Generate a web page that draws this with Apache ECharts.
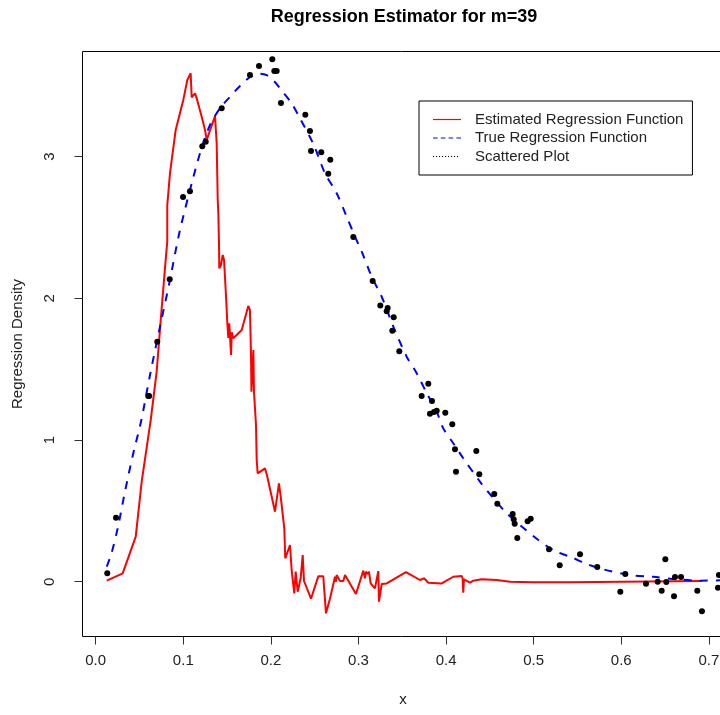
<!DOCTYPE html>
<html>
<head>
<meta charset="utf-8">
<script src="https://cdn.jsdelivr.net/npm/echarts@6/dist/echarts.min.js"></script>
<style>
  html, body { margin: 0; padding: 0; background: #fff; }
  #chart { width: 720px; height: 715px; }
</style>
</head>
<body>
<div id="chart"></div>
<script>
// estimated regression function (red)
const estX = [0.0126, 0.0308, 0.0457, 0.0525, 0.0628, 0.0696, 0.0753, 0.0802, 0.0817, 0.0817, 0.0848, 0.0913,
  0.1000, 0.1046, 0.1084, 0.1096, 0.1134, 0.1153, 0.1210, 0.1248, 0.1267, 0.1286, 0.1362, 0.1381, 0.1393,
  0.1400, 0.1408, 0.1411, 0.1430, 0.1450, 0.1465, 0.1487, 0.1503, 0.1514, 0.1525, 0.1545, 0.1553, 0.1571,
  0.1667, 0.1742, 0.1761, 0.1773, 0.1778, 0.1800, 0.1807, 0.1830, 0.1838, 0.1849, 0.1933, 0.1959, 0.2047,
  0.2092, 0.2112, 0.2153, 0.2164, 0.2218, 0.2237, 0.2267, 0.2283, 0.2306, 0.2340, 0.2363, 0.2378, 0.2458,
  0.2541, 0.2598, 0.2629, 0.2675, 0.2732, 0.2743, 0.2751, 0.2789, 0.2827, 0.2846, 0.2971, 0.3055, 0.3074,
  0.3086, 0.3105, 0.3120, 0.3139, 0.3188, 0.3226, 0.3234, 0.3265, 0.3322, 0.3542, 0.3702, 0.3748, 0.3797,
  0.3950, 0.4082, 0.4178, 0.4189, 0.4196, 0.4204, 0.4273, 0.4311, 0.4406, 0.4578, 0.4730, 0.4996, 0.5406,
  0.5415, 0.6918];
const estY = [0.007, 0.059, 0.318, 0.706, 1.141, 1.482, 1.929, 2.294, 2.400, 2.658, 2.882, 3.188,
  3.400, 3.541, 3.588, 3.418, 3.447, 3.411, 3.282, 3.188, 3.117, 3.129, 3.286, 3.094, 2.694,
  2.600, 2.364, 2.211, 2.235, 2.306, 2.270, 2.023, 1.823, 1.720, 1.823, 1.600, 1.760, 1.718,
  1.776, 1.946, 1.917, 1.600, 1.341, 1.635, 1.341, 1.106, 0.859, 0.765, 0.800, 0.741, 0.494,
  0.694, 0.600, 0.377, 0.165, 0.259, 0.083, -0.082, 0.071, -0.071, 0.024, 0.188, 0.005, -0.120,
  0.038, 0.038, -0.223, -0.118, 0.035, 0.000, 0.047, 0.005, 0.005, 0.047, -0.087, 0.078, 0.024,
  0.071, 0.054, 0.071, -0.012, -0.047, 0.075, -0.141, -0.016, -0.012, 0.068, 0.012, 0.024, -0.007,
  -0.012, 0.035, 0.040, 0.024, -0.078, 0.017, -0.007, 0.007, 0.017, 0.012, 0.000, -0.004, -0.004,
  0.005, 0.005];

// true regression function (blue dashed)
const trueX = [0.0126, 0.0180, 0.0251, 0.0334, 0.0429, 0.0517, 0.0620, 0.0734, 0.0840, 0.0954, 0.1096,
  0.1202, 0.1305, 0.1419, 0.1530, 0.1650, 0.1760, 0.1876, 0.1952, 0.2040, 0.2104, 0.2237, 0.2332, 0.2484,
  0.2618, 0.2751, 0.2865, 0.2960, 0.3037, 0.3151, 0.3265, 0.3398, 0.3550, 0.3665, 0.3779, 0.3893, 0.3968,
  0.4082, 0.4196, 0.4387, 0.4539, 0.4692, 0.4844, 0.5053, 0.5243, 0.5434, 0.5605, 0.5795, 0.6100, 0.6365,
  0.6632, 0.6898, 0.7127];
const trueY = [0.106, 0.200, 0.377, 0.635, 0.906, 1.129, 1.459, 1.800, 2.106, 2.459, 2.811,
  3.047, 3.223, 3.341, 3.420, 3.500, 3.560, 3.585, 3.575, 3.530, 3.482, 3.376, 3.270, 3.090,
  2.882, 2.741, 2.576, 2.435, 2.329, 2.152, 2.011, 1.800, 1.588, 1.471, 1.330, 1.200, 1.082,
  0.977, 0.871, 0.706, 0.589, 0.483, 0.400, 0.294, 0.217, 0.172, 0.125, 0.087, 0.047, 0.035,
  0.017, 0.007, 0.010];

// scattered observations
const pointX = [0.0132, 0.0232, 0.0600, 0.0610, 0.0703, 0.0845, 0.0997, 0.1076, 0.1217, 0.1256, 0.1438,
  0.1761, 0.1864, 0.2016, 0.2039, 0.2066, 0.2115, 0.2393, 0.2446, 0.2458, 0.2575, 0.2678, 0.2655, 0.2941,
  0.3162, 0.3249, 0.3333, 0.3322, 0.3402, 0.3386, 0.3466, 0.3797, 0.3721, 0.3839, 0.3816, 0.3862, 0.3893,
  0.3991, 0.4071, 0.4102, 0.4345, 0.4113, 0.4379, 0.4550, 0.4585, 0.4760, 0.4772, 0.4783, 0.4813, 0.4931,
  0.4966, 0.5175, 0.5297, 0.5529, 0.5726, 0.5989, 0.6046, 0.6282, 0.6416, 0.6461, 0.6503, 0.6514, 0.6602,
  0.6613, 0.6682, 0.6868, 0.6921, 0.7104, 0.7115];
const pointY = [0.059, 0.452, 1.311, 1.311, 1.694, 2.134, 2.715, 2.755, 3.073, 3.105, 3.341,
  3.576, 3.639, 3.687, 3.604, 3.604, 3.378, 3.296, 3.181, 3.040, 3.030, 2.978, 2.879, 2.433,
  2.122, 1.950, 1.932, 1.908, 1.866, 1.771, 1.626, 1.397, 1.311, 1.275, 1.186, 1.198, 1.207,
  1.193, 1.111, 0.934, 0.922, 0.776, 0.758, 0.619, 0.551, 0.478, 0.440, 0.409, 0.308, 0.426,
  0.445, 0.229, 0.116, 0.193, 0.104, -0.071, 0.054, -0.014, 0.000, -0.063, 0.158, -0.002, -0.103,
  0.033, 0.033, -0.063, -0.209, -0.042, 0.047];

const xTicks = [0, 0.1, 0.2, 0.3, 0.4, 0.5, 0.6, 0.7];
const yTicks = [0, 1, 2, 3];

const zip = (xs, ys) => xs.map((x, i) => [x, ys[i]]);
const font = 'Liberation Sans, Arial, sans-serif';

// legend icons (bbox 28x14)
const box = 'M0,0M28,14';
const lineIcon = 'path://' + box + 'M0,6.4h28v1.2h-28z';
const dashIcon = 'path://' + box + [0, 7.8, 15.6, 23.4].map(x => 'M' + x + ',6.4h4.6v1.2h-4.6z').join('');
const dotIcon = 'path://' + box + [0, 3, 6, 9, 12, 15, 18, 21, 24].map(x => 'M' + x + ',6.5h1.1v1.1h-1.1z').join('');

const chart = echarts.init(document.getElementById('chart'));

chart.setOption({
  animation: false,
  backgroundColor: '#fff',
  title: {
    text: 'Regression Estimator for m=39',
    left: 404,
    top: 8,
    textAlign: 'center',
    padding: 0,
    textStyle: { fontSize: 18, fontWeight: 'bold', color: '#000', fontFamily: font }
  },
  legend: {
    orient: 'vertical',
    left: 419,
    top: 101,
    padding: [11, 9, 11, 14],
    itemWidth: 28,
    itemHeight: 14,
    itemGap: 3.5,
    borderColor: '#000',
    borderWidth: 1,
    selectedMode: false,
    textStyle: { fontSize: 15, color: '#222', fontFamily: font, padding: [0, 0, 0, 9], lineHeight: 15 },
    data: [
      { name: 'Estimated Regression Function', icon: lineIcon },
      { name: 'True Regression Function', icon: dashIcon },
      { name: 'Scattered Plot', icon: dotIcon }
    ]
  },
  grid: {
    left: 82.5,
    top: 51.5,
    width: 641,
    height: 585,
    show: true,
    borderColor: '#000',
    borderWidth: 1,
    outerBoundsMode: 'none'
  },
  xAxis: {
    type: 'value',
    min: -0.01507,
    max: 0.7167,
    name: 'x',
    nameLocation: 'middle',
    nameGap: 56,
    nameTextStyle: { fontSize: 15, color: '#222', fontFamily: font },
    axisLine: { show: false, onZero: false },
    splitLine: { show: false },
    axisTick: { show: true, customValues: xTicks, length: 8, lineStyle: { color: '#333' } },
    axisLabel: {
      customValues: xTicks,
      margin: 17,
      fontSize: 15,
      color: '#222',
      fontFamily: font,
      formatter: v => v.toFixed(1)
    }
  },
  yAxis: {
    type: 'value',
    min: -0.3867,
    max: 3.7417,
    name: 'Regression Density',
    nameLocation: 'middle',
    nameGap: 57,
    nameTextStyle: { fontSize: 15, color: '#222', fontFamily: font },
    axisLine: { show: false, onZero: false },
    splitLine: { show: false },
    axisTick: { show: true, customValues: yTicks, length: 8, lineStyle: { color: '#333' } },
    axisLabel: {
      customValues: yTicks,
      rotate: 90,
      margin: 25,
      fontSize: 15,
      color: '#222',
      fontFamily: font
    }
  },
  series: [
    {
      name: 'Estimated Regression Function',
      type: 'line',
      data: zip(estX, estY),
      symbol: 'none',
      lineStyle: { color: '#ff0000', width: 2 },
      itemStyle: { color: '#ff0000' },
      z: 2
    },
    {
      name: 'True Regression Function',
      type: 'line',
      data: zip(trueX, trueY),
      symbol: 'none',
      smooth: 0.3,
      lineStyle: { color: '#0000ff', width: 2, type: [8, 8] },
      itemStyle: { color: '#0000ff' },
      z: 3
    },
    {
      name: 'Scattered Plot',
      type: 'scatter',
      data: zip(pointX, pointY),
      symbol: 'circle',
      symbolSize: 6,
      itemStyle: { color: '#000', opacity: 1 },
      z: 4
    }
  ]
});
</script>
</body>
</html>
